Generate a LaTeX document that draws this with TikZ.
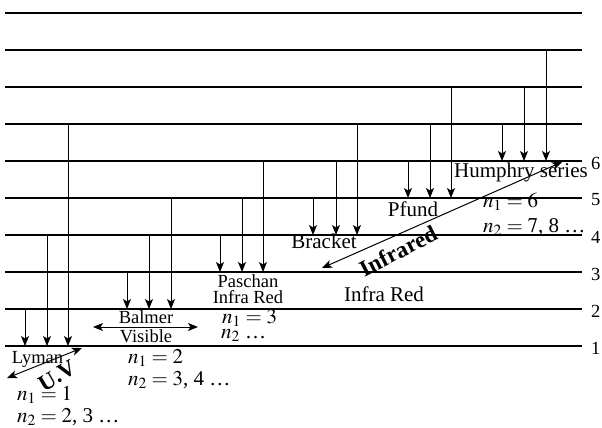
\documentclass[tikz,border=0pt]{standalone}
\usepackage{mathptmx}
\usepackage[no-math]{fontspec}
\setmainfont{Liberation Serif}
\usetikzlibrary{arrows.meta}

\begin{document}
\begin{tikzpicture}[x=1pt, y=-1pt,
        stateline/.style={line width=1.2pt, draw=black},
        jump/.style={-{Stealth[length=10pt, width=8pt, inset=2.5pt]}, line width=1pt},
        band/.style={{Stealth[length=10pt, width=8pt, inset=2.5pt]}-{Stealth[length=10pt, width=8pt, inset=2.5pt]}, line width=1pt},
        lbl/.style={font=\fontsize{21}{23}\selectfont, inner sep=0pt},
        smalltxt/.style={font=\fontsize{18.5}{20}\selectfont, inner sep=0pt},
        boldtag/.style={font=\fontsize{23}{25}\selectfont\bfseries, inner sep=0pt}
    ]
    \useasboundingbox (0,0) rectangle (602,428);

    % Energy levels
    \foreach \k in {1,...,10} {
        \coordinate (L\k) at (5,{346-37*(\k-1)});
        \coordinate (R\k) at (582,{346-37*(\k-1)});
        \draw[stateline] (L\k) -- (R\k);
    }
    \foreach \k in {1,...,6}
        \node[smalltxt, anchor=west] (num\k) at ([xshift=9pt, yshift=-2pt]R\k) {\k};

    % Transitions
    \foreach \x/\a/\b [count=\i] in {25/2/1, 47/4/1, 68/7/1,
            127/3/2, 149/4/2, 171/5/2,
            220/4/3, 242/5/3, 263/6/3,
            313/5/4, 336/6/4, 357/7/4,
            408/6/5, 430/7/5, 451/8/5,
            502/7/6, 524/8/6, 546/9/6} {
        \coordinate (top\i) at (\x,{346-37*(\a-1)});
        \coordinate (bot\i) at (\x,{346-37*(\b-1)});
        \draw[jump] (top\i) -- (bot\i);
    }

    % Lyman - U.V
    \node[smalltxt, anchor=base] (lyman) at (37.5,363) {Lyman};
    \coordinate (uvA) at (7,378);
    \coordinate (uvB) at (82,348);
    \draw[band] (uvA) -- (uvB);
    \node[boldtag, rotate=30] (uv) at (57,376) {U.V};
    \node[lbl, anchor=base west] (ly1) at (17,400) {$n_1 = 1$};
    \node[lbl, anchor=base west] (ly2) at (17,422) {$n_2 = 2$, 3 \ldots};

    % Balmer - Visible
    \node[smalltxt, anchor=base] (balmer) at (146,323) {Balmer};
    \node[smalltxt, anchor=base] (visible) at (146,342) {Visible};
    \coordinate (visA) at (93,327);
    \coordinate (visB) at (198,327);
    \draw[band] (visA) -- (visB);
    \node[lbl, anchor=base west] (ba1) at (128,363) {$n_1 = 2$};
    \node[lbl, anchor=base west] (ba2) at (128,385) {$n_2 = 3$, 4 \ldots};

    % Paschan
    \node[smalltxt, anchor=base] (paschan) at (248,287) {Paschan};
    \node[smalltxt, anchor=base] (pasir) at (248,303) {Infra Red};
    \node[lbl, anchor=base west] (pa1) at (222,323) {$n_1 = 3$};
    \node[lbl, anchor=base west] (pa2) at (221,338) {$n_2$ \ldots};
    \node[lbl, anchor=base] (infrared) at (384,301) {Infra Red};

    % Bracket, Pfund, Humphry - Infrared
    \node[lbl, anchor=base] (bracket) at (324,248) {Bracket};
    \node[lbl, anchor=base] (pfund) at (413,216) {Pfund};
    \node[lbl, anchor=base] (humphry) at (521,177) {Humphry series};
    \node[lbl, anchor=base west] (hu1) at (483,207) {$n_1 = 6$};
    \node[lbl, anchor=base west] (hu2) at (483,232) {$n_2 = 7$, 8 \ldots};
    \coordinate (irA) at (322,268);
    \coordinate (irB) at (562,162);
    \draw[band] (irA) -- (irB);
    \node[boldtag, rotate=27] (irtag) at (398,251) {Infrared};
\end{tikzpicture}
\end{document}
